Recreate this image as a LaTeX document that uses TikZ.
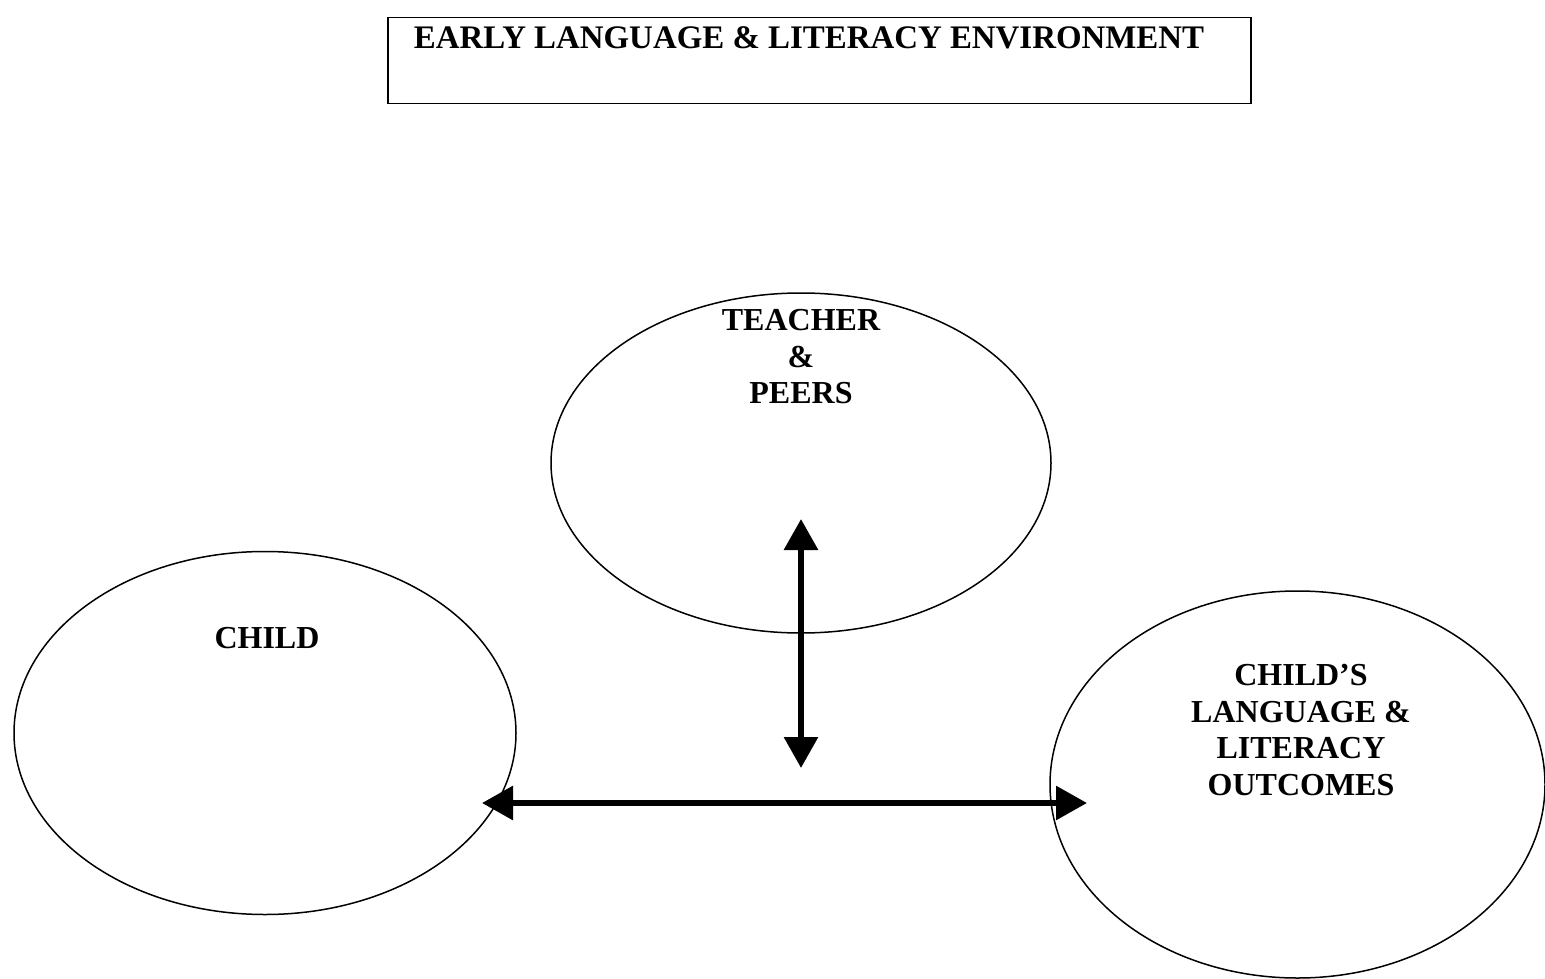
\documentclass[tikz,border=0pt]{standalone}
\usepackage{fontspec}
\setmainfont{Liberation Serif}
\usetikzlibrary{shapes.geometric,arrows.meta}
\tikzset{
  oval/.style={draw, ellipse, line width=1.5pt, inner sep=0pt},
  lbl/.style={font=\fontsize{32}{36.5}\selectfont\bfseries, align=center, inner sep=0pt},
  bigarrow/.style={line width=6pt, {Triangle[length=31pt,width=33pt]}-{Triangle[length=31pt,width=33pt]}},
}
\begin{document}
\begin{tikzpicture}[x=1pt,y=-1pt]
\useasboundingbox (0,0) rectangle (1545,979);
% title box
\node[draw, line width=1.5pt, minimum width=863pt, minimum height=86pt, anchor=north west, inner sep=0pt] (box) at (387,17) {};
\node[lbl, font=\fontsize{32.9}{36.5}\selectfont\bfseries, anchor=center] (title) at (809,38) {EARLY LANGUAGE \& LITERACY ENVIRONMENT};
% ellipses
\node[oval, minimum width=500pt, minimum height=340pt] (teacher) at (801,463) {};
\node[oval, minimum width=502pt, minimum height=363pt] (child) at (265,733) {};
\node[oval, minimum width=495pt, minimum height=387pt] (outcome) at (1297.5,784.5) {};
% labels
\node[lbl] (tlab) at (801,357) {TEACHER\\\&\\PEERS};
\node[lbl] (clab) at (267,638) {CHILD};
\node[lbl] (olab) at (1301,730) {CHILD’S\\LANGUAGE \&\\LITERACY\\OUTCOMES};
% arrows
\coordinate (vtop) at (801,519);
\coordinate (vbot) at (801,768);
\coordinate (hleft) at (482,803);
\coordinate (hright) at (1087,803);
\draw[bigarrow] (vtop) -- (vbot);
\draw[bigarrow] (hleft) -- (hright);
\end{tikzpicture}
\end{document}
